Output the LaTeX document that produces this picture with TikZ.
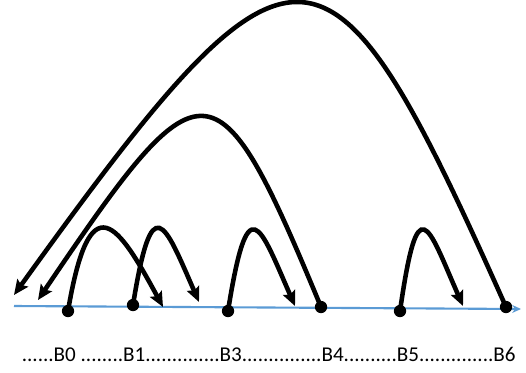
\documentclass[tikz,border=0pt]{standalone}
\usepackage{fontspec}
\setmainfont{Carlito}
\usetikzlibrary{arrows.meta}
\definecolor{axisblue}{HTML}{5B9BD5}
\begin{document}
\begin{tikzpicture}[x=0.02cm, y=-0.02cm,
    dotnode/.style={circle, fill=black, inner sep=0pt, minimum size=7pt},
    jump/.style={-{Stealth[length=8.5pt, width=7.5pt, inset=1.5pt]}, line width=2.6pt},
    axisline/.style={-{Stealth[length=5pt, width=4.5pt]}, line width=1.2pt, axisblue},
  ]
    \useasboundingbox (0,0) rectangle (526,372);
    % time axis
    \coordinate (axL) at (14,306);
    \coordinate (axR) at (521,309);
    \draw[axisline] (axL) -- (axR);
    % block points
    \node[dotnode] (b0) at (68,311) {};
    \node[dotnode] (b1) at (133,305) {};
    \node[dotnode] (b3) at (228,311) {};
    \node[dotnode] (b4) at (321,307) {};
    \node[dotnode] (b5) at (400,311) {};
    \node[dotnode] (b6) at (506,307) {};
    % arrow ends
    \coordinate (e0) at (163,307);
    \coordinate (e1) at (199,302);
    \coordinate (e3) at (295,306);
    \coordinate (e5) at (463,306);
    \coordinate (e4) at (38,300);
    \coordinate (e6) at (14,295);
    % short jumps
    \draw[jump] (b0.center) .. controls +(22,-130) and +(-45,-83) .. (e0);
    \draw[jump] (b1.center) .. controls +(19,-118) and +(-35,-80) .. (e1);
    \draw[jump] (b3.center) .. controls +(20,-125) and +(-36,-82) .. (e3);
    \draw[jump] (b5.center) .. controls +(18,-125) and +(-36,-82) .. (e5);
    % long jumps back
    \draw[jump] (b4.center) .. controls +(-105,-253) and +(165,-244) .. (e4);
    \draw[jump] (b6.center) .. controls +(-178,-398) and +(285,-396) .. (e6);
    % labels
    \node[font=\fontsize{12}{14}\selectfont] (lbl) at (269,354)
      {......B0 ........B1..............B3...............B4..........B5..............B6};
\end{tikzpicture}
\end{document}
